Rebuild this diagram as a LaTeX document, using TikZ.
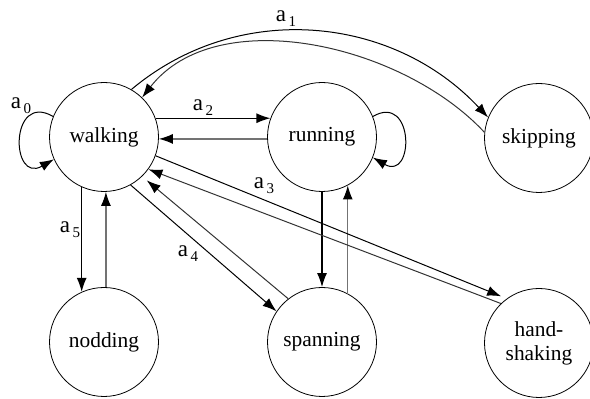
\documentclass[tikz,border=0pt]{standalone}
\usepackage{fontspec}
\setmainfont{Liberation Serif}
\usetikzlibrary{arrows.meta}
\newcommand{\act}[1]{a\kern1.2pt\raisebox{-2.6pt}{\fontsize{7.5}{8}\selectfont #1}}

\begin{document}
\begin{tikzpicture}[x=0.5pt,y=-0.5pt,
  state/.style={draw,circle,line width=0.4pt,minimum size=54.5pt,inner sep=0pt,align=center,font=\fontsize{10.7}{12}\selectfont},
  fwd/.style={-{Latex[length=7pt,width=5pt]},line width=0.6pt},
  back/.style={-{Latex[length=7pt,width=5pt,color=black]},line width=0.6pt,black!55},
  lbl/.style={font=\fontsize{11.5}{12}\selectfont,inner sep=0pt}]
\useasboundingbox (0,0) rectangle (590,399);
\foreach \x/\y/\name/\txt in {104/137/walking/walking,322/137/running/running,539/138/skipping/skipping,
  104/342/nodding/nodding,322/342/spanning/spanning,539/343/hand/{hand-\\shaking}}
  \node[state] (\name) at (\x,\y) {\txt};
% self loops
\draw[fwd,line width=0.5pt] (walking.158) to[out=150,in=210,looseness=3] (walking.204);
\draw[fwd,line width=0.5pt] (running.22) to[out=30,in=-30,looseness=3] (running.-22);
% walking <-> skipping
\draw[fwd,line width=0.5pt] (walking.60) to[out=40,in=133] (skipping.158);
\draw[back,black!80,line width=0.5pt] (skipping.174) to[out=133,in=52,looseness=0.9] (walking.46);
% straight pairs
\draw[fwd] (walking.20) -- (running.160);
\draw[back] (running.182) -- (walking.-2);
\draw[fwd] (walking.246) -- (nodding.114);
\draw[back] (nodding.88) -- (walking.-88);
\draw[fwd] (running.-90) -- (spanning.90);
\draw[back] (spanning.62) -- (running.-62);
\draw[fwd,line width=0.5pt] (walking.-61) -- (spanning.146);
\draw[back,black!80,line width=0.5pt,shorten >=3pt] (spanning.128) -- (walking.-46);
\draw[fwd,line width=0.5pt,shorten >=3pt] (walking.-20) -- (hand.126);
\draw[back,black!80,line width=0.5pt] (hand.134) -- (walking.-36);
% labels
\node[lbl] (l0) at (21,106) {\act{0}};
\node[lbl] (l1) at (286,19) {\act{1}};
\node[lbl] (l2) at (203,108) {\act{2}};
\node[lbl] (l3) at (264,186) {\act{3}};
\node[lbl] (l4) at (188,254) {\act{4}};
\node[lbl] (l5) at (70,230) {\act{5}};
\end{tikzpicture}
\end{document}
